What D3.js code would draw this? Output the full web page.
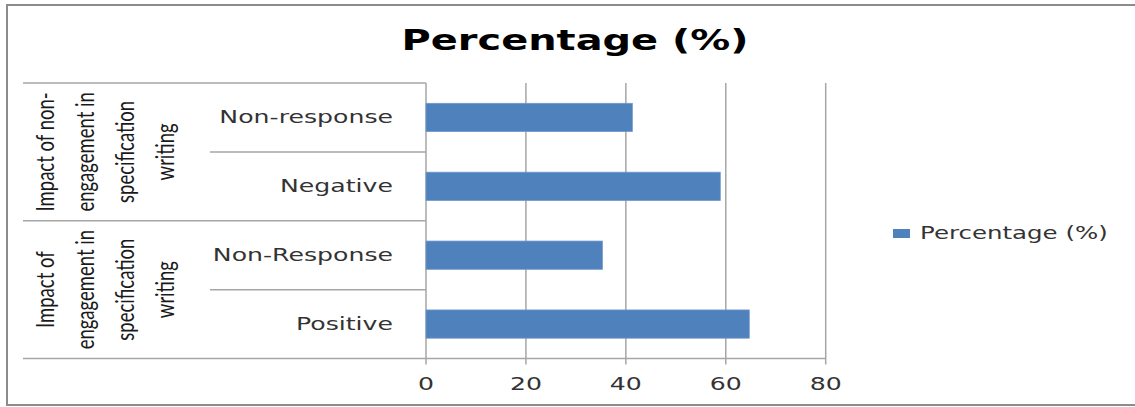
<!DOCTYPE html>
<html>
<head>
<meta charset="utf-8">
<script src="https://cdn.jsdelivr.net/npm/d3@7"></script>
<style>
  html, body { margin: 0; padding: 0; background: #fff; }
  svg { display: block; }
</style>
</head>
<body>
<div class="canva"></div>
<script>
// chart data
const categories = ["Non-response", "Negative", "Non-Response", "Positive"];
const values = [41.3, 58.9, 35.3, 64.7];
const groupOf = [0, 0, 1, 1];
const groupLabels = [
  ["Impact of non-", "engagement in", "specification", "writing"],
  ["Impact of", "engagement in", "specification", "writing"]
];
const xTicks = [0, 20, 40, 60, 80];
const seriesName = "Percentage (%)";
const title = "Percentage (%)";

var width = 1135, height = 407;
var plot = { left: 426, right: 825.7, top: 83, bottom: 358.5 };
var tableLeft = 23, catLineLeft = 210;
var SX = 1.4; // the picture is stretched sideways, so text is too
var barColor = "#4f81bd", gridColor = "#a6a6a6", textColor = "#333";

const svg = d3.select(".canva").append("svg")
    .attr("width", width)
    .attr("height", height)
    .attr("viewBox", [0, 0, width, height]);

// outer frame
svg.append("rect")
    .attr("x", 7).attr("y", 5)
    .attr("width", width + 20).attr("height", 400)
    .attr("fill", "#fff")
    .attr("stroke", "#8c8c8c")
    .attr("stroke-width", 2);

const x = d3.scaleLinear([0, 80], [plot.left, plot.right]);
const y = d3.scaleBand(categories, [plot.top, plot.bottom]).padding(0);
const barH = y.bandwidth() * 0.41;

// title
svg.append("text")
    .attr("transform", `translate(575, 50) scale(${SX},1)`)
    .attr("text-anchor", "middle")
    .attr("font-family", "DejaVu Sans")
    .attr("font-weight", "bold")
    .attr("font-size", 28.5)
    .attr("fill", "#000")
    .text(title);

// gridlines + ticks
svg.append("g")
    .selectAll("line")
    .data(xTicks)
    .join("line")
      .attr("x1", d => x(d)).attr("x2", d => x(d))
      .attr("y1", plot.top).attr("y2", plot.bottom + 6)
      .attr("stroke", gridColor)
      .attr("stroke-width", 1.5);

// bottom axis and left table lines
const hLines = [
  { y: plot.top, x1: tableLeft, x2: plot.left },
  { y: y(categories[2]), x1: tableLeft, x2: plot.left },
  { y: plot.bottom, x1: tableLeft, x2: plot.right },
  { y: y(categories[1]), x1: catLineLeft, x2: plot.left },
  { y: y(categories[3]), x1: catLineLeft, x2: plot.left }
];
svg.append("g")
    .selectAll("line")
    .data(hLines)
    .join("line")
      .attr("x1", d => d.x1).attr("x2", d => d.x2)
      .attr("y1", d => d.y).attr("y2", d => d.y)
      .attr("stroke", gridColor)
      .attr("stroke-width", 1.5);

// bars
svg.append("g")
    .selectAll("rect")
    .data(categories)
    .join("rect")
      .attr("x", x(0))
      .attr("y", d => y(d) + (y.bandwidth() - barH) / 2)
      .attr("width", (d, i) => x(values[i]) - x(0))
      .attr("height", barH)
      .attr("fill", barColor)
      .attr("stroke", "#6f98cc")
      .attr("stroke-width", 0.8);

// x tick labels
svg.append("g")
    .selectAll("text")
    .data(xTicks)
    .join("text")
      .attr("transform", d => `translate(${x(d)}, 390) scale(${SX},1)`)
      .attr("text-anchor", "middle")
      .attr("font-family", "DejaVu Sans")
      .attr("font-size", 18)
      .attr("fill", textColor)
      .text(d => d);

// category labels
svg.append("g")
    .selectAll("text")
    .data(categories)
    .join("text")
      .attr("transform", d => `translate(393, ${y(d) + y.bandwidth() / 2 + 6}) scale(${SX},1)`)
      .attr("text-anchor", "end")
      .attr("font-family", "DejaVu Sans")
      .attr("font-size", 18)
      .attr("fill", textColor)
      .text(d => d);

// group labels, rotated
groupLabels.forEach((lines, gi) => {
  const members = categories.filter((c, i) => groupOf[i] === gi);
  const top = y(members[0]);
  const bottom = y(members[members.length - 1]) + y.bandwidth();
  const cy = (top + bottom) / 2;
  const t = svg.append("text")
      .attr("transform", `translate(105.5, ${cy}) scale(${SX},1) rotate(-90)`)
      .attr("text-anchor", "middle")
      .attr("font-family", "Lato")
      .attr("font-size", 18.5)
      .attr("fill", "#1a1a1a");
  t.selectAll("tspan")
    .data(lines)
    .join("tspan")
      .attr("x", 0)
      .attr("y", (d, i) => (i - (lines.length - 1) / 2) * 28.6 + 6)
      .text(d => d);
});

// legend
const legend = svg.append("g").attr("transform", "translate(893, 229)");
legend.append("rect")
    .attr("width", 17).attr("height", 9)
    .attr("fill", barColor);
legend.append("text")
    .attr("transform", `translate(27, 10) scale(${SX},1)`)
    .attr("font-family", "DejaVu Sans")
    .attr("font-size", 17.5)
    .attr("fill", textColor)
    .text(seriesName);
</script>
</body>
</html>
